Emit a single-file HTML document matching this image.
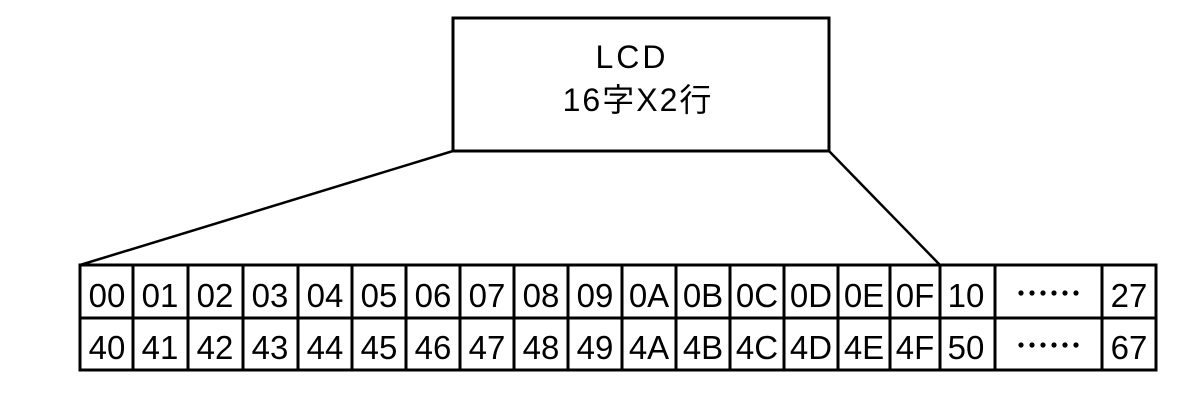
<!DOCTYPE html>
<html><head><meta charset="utf-8"><style>html,body{margin:0;padding:0;background:#fff;}</style></head>
<body>
<svg width="1202" height="405" xmlns="http://www.w3.org/2000/svg" style="display:block">
<rect width="1202" height="405" fill="#fff"/>
<g stroke="#000" stroke-width="3" fill="none">
<rect x="453" y="18" width="376" height="133"/>
<line x1="453" y1="151" x2="80" y2="265" stroke-width="2.5"/>
<line x1="829" y1="151" x2="940" y2="265" stroke-width="2.5"/>
<rect x="80" y="265" width="1076" height="105"/>
<line x1="80" y1="318" x2="1156" y2="318"/>
<line x1="133" y1="265" x2="133" y2="370"/>
<line x1="188" y1="265" x2="188" y2="370"/>
<line x1="243" y1="265" x2="243" y2="370"/>
<line x1="298" y1="265" x2="298" y2="370"/>
<line x1="352" y1="265" x2="352" y2="370"/>
<line x1="406" y1="265" x2="406" y2="370"/>
<line x1="460" y1="265" x2="460" y2="370"/>
<line x1="514" y1="265" x2="514" y2="370"/>
<line x1="568" y1="265" x2="568" y2="370"/>
<line x1="622" y1="265" x2="622" y2="370"/>
<line x1="676" y1="265" x2="676" y2="370"/>
<line x1="730" y1="265" x2="730" y2="370"/>
<line x1="784" y1="265" x2="784" y2="370"/>
<line x1="838" y1="265" x2="838" y2="370"/>
<line x1="890" y1="265" x2="890" y2="370"/>
<line x1="940" y1="265" x2="940" y2="370"/>
<line x1="995" y1="265" x2="995" y2="370"/>
<line x1="1102" y1="265" x2="1102" y2="370"/>
</g>
<g font-family="Liberation Sans, Noto Sans CJK JP, sans-serif" fill="#000" text-anchor="middle">
<text x="632" y="68" font-size="32" letter-spacing="3">LCD</text>
<text x="638" y="111" font-size="32" letter-spacing="2">16字X2行</text>
</g>
<g font-family="Liberation Sans, sans-serif" font-size="33" fill="#000" text-anchor="middle">
<text x="107" y="307">00</text><text x="160" y="307">01</text><text x="215" y="307">02</text><text x="270" y="307">03</text><text x="325" y="307">04</text><text x="379" y="307">05</text><text x="433" y="307">06</text><text x="487" y="307">07</text><text x="541" y="307">08</text><text x="595" y="307">09</text><text x="649" y="307">0A</text><text x="703" y="307">0B</text><text x="757" y="307">0C</text><text x="811" y="307">0D</text><text x="864" y="307">0E</text><text x="915" y="307">0F</text><text x="966" y="307">10</text><text x="1129" y="307">27</text>
<text x="107" y="359">40</text><text x="160" y="359">41</text><text x="215" y="359">42</text><text x="270" y="359">43</text><text x="325" y="359">44</text><text x="379" y="359">45</text><text x="433" y="359">46</text><text x="487" y="359">47</text><text x="541" y="359">48</text><text x="595" y="359">49</text><text x="649" y="359">4A</text><text x="703" y="359">4B</text><text x="757" y="359">4C</text><text x="811" y="359">4D</text><text x="864" y="359">4E</text><text x="915" y="359">4F</text><text x="966" y="359">50</text><text x="1129" y="359">67</text>
</g>
<g fill="#000">
<circle cx="1021" cy="293" r="2.6"/><circle cx="1032" cy="293" r="2.6"/><circle cx="1043" cy="293" r="2.6"/><circle cx="1054" cy="293" r="2.6"/><circle cx="1065" cy="293" r="2.6"/><circle cx="1076" cy="293" r="2.6"/>
<circle cx="1021" cy="345" r="2.6"/><circle cx="1032" cy="345" r="2.6"/><circle cx="1043" cy="345" r="2.6"/><circle cx="1054" cy="345" r="2.6"/><circle cx="1065" cy="345" r="2.6"/><circle cx="1076" cy="345" r="2.6"/>
</g>
</svg>
</body></html>
